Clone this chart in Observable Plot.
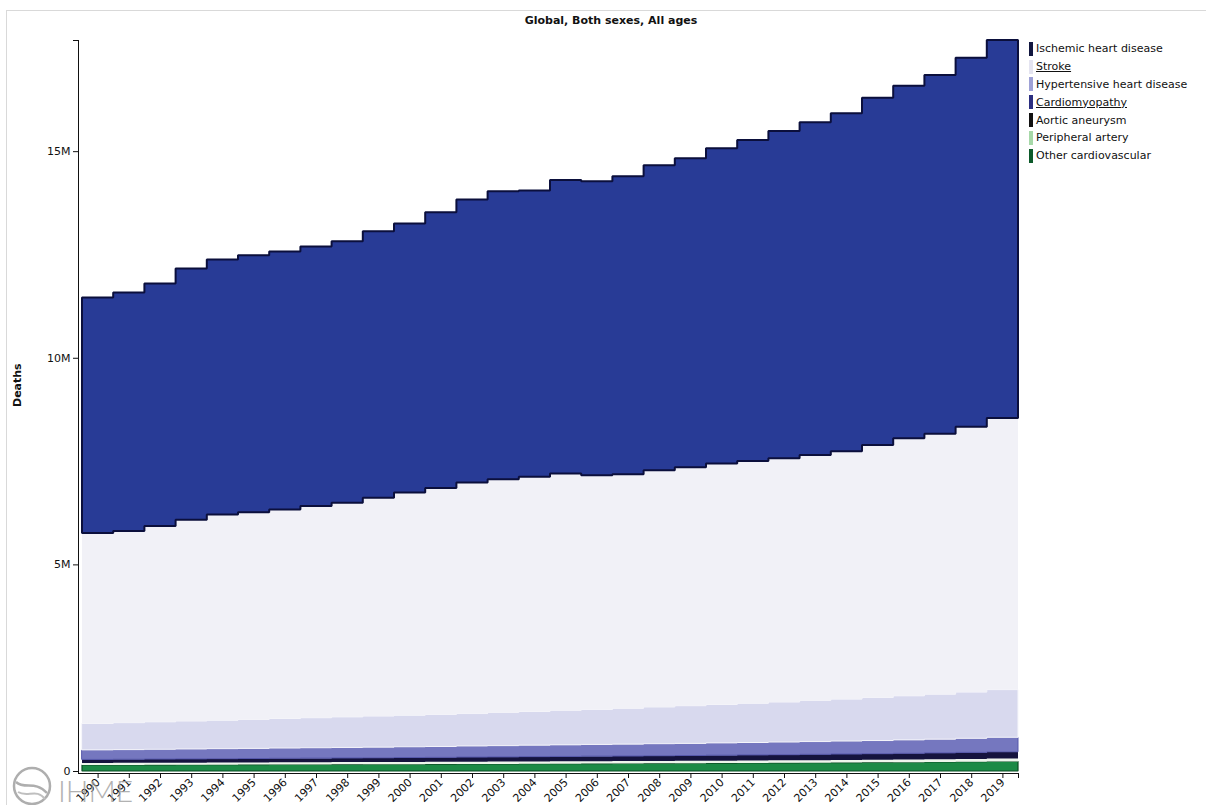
<!DOCTYPE html>
<html>
<head>
<meta charset="utf-8">
<script src="https://cdn.jsdelivr.net/npm/d3@7"></script>
<script src="https://cdn.jsdelivr.net/npm/@observablehq/plot@0.6"></script>
<style>
  html, body { margin: 0; padding: 0; background: #fff; }
  body { width: 1206px; height: 805px; position: relative; overflow: hidden; font-family: "DejaVu Sans", sans-serif; }
  #border { position: absolute; left: 6px; top: 10px; width: 1200px; height: 795px; border-top: 1px solid #d9d9d9; border-left: 1px solid #d9d9d9; }
  #title { position: absolute; left: 0; top: 14px; width: 1222px; text-align: center; font-weight: bold; font-size: 11px; color: #111; }
  #chart { position: absolute; left: 0; top: 0; }
  #legend { position: absolute; left: 1029px; top: 40px; font-size: 11px; color: #111; }
  .row { height: 17.8px; display: flex; align-items: center; white-space: nowrap; }
  .sw { width: 4px; height: 14px; margin-right: 3px; }
  .u { text-decoration: underline; }
  #logo { position: absolute; left: 0; top: 762px; opacity: 0.8; }
</style>
</head>
<body>
<div id="border"></div>
<div id="title">Global, Both sexes, All ages</div>
<div id="chart"></div>
<div id="legend"></div>
<svg id="logo" width="150" height="43">
  <circle cx="32" cy="24" r="18" fill="none" stroke="#9a9a9a" stroke-width="2.5"/>
  <path d="M16 20 C 25 28, 35 18, 47 31" fill="none" stroke="#9a9a9a" stroke-width="2.5"/>
  <path d="M18 30 C 27 36, 37 26, 45 37" fill="none" stroke="#b0b0b0" stroke-width="2"/>
  <text x="58" y="40" font-family="Lato, sans-serif" font-weight="300" font-size="30" fill="#a0a0a0">IHME</text>
</svg>
<script>
// Years (categories)
const years = [1990,1991,1992,1993,1994,1995,1996,1997,1998,1999,
               2000,2001,2002,2003,2004,2005,2006,2007,2008,2009,
               2010,2011,2012,2013,2014,2015,2016,2017,2018,2019];

// Deaths, in millions, per cause
const otherCardio = [0.145,0.147,0.149,0.151,0.153,0.155,0.157,0.159,0.161,0.163,
                     0.165,0.167,0.170,0.172,0.175,0.177,0.180,0.182,0.185,0.188,
                     0.191,0.194,0.197,0.201,0.205,0.209,0.213,0.218,0.224,0.232];
const peripheral  = [0.050,0.050,0.051,0.051,0.052,0.052,0.053,0.053,0.054,0.054,
                     0.055,0.055,0.056,0.056,0.057,0.057,0.058,0.058,0.059,0.059,
                     0.060,0.061,0.061,0.062,0.063,0.064,0.065,0.066,0.067,0.068];
const aortic      = [0.085,0.087,0.089,0.091,0.093,0.095,0.097,0.099,0.101,0.103,
                     0.106,0.108,0.111,0.113,0.116,0.118,0.121,0.123,0.126,0.128,
                     0.131,0.134,0.137,0.140,0.143,0.146,0.150,0.154,0.159,0.165];
const cardiomyo   = [0.230,0.233,0.236,0.239,0.242,0.245,0.248,0.251,0.254,0.257,
                     0.260,0.264,0.268,0.272,0.276,0.280,0.284,0.287,0.290,0.293,
                     0.297,0.301,0.305,0.309,0.313,0.318,0.324,0.331,0.340,0.350];
const hypertensive= [0.640,0.653,0.665,0.678,0.690,0.703,0.715,0.728,0.740,0.753,
                     0.764,0.776,0.785,0.807,0.816,0.838,0.847,0.870,0.890,0.912,
                     0.931,0.950,0.970,0.998,1.016,1.043,1.068,1.091,1.120,1.155];
const stroke      = [4.61,4.64,4.74,4.87,4.98,5.01,5.06,5.12,5.18,5.28,
                     5.39,5.48,5.59,5.64,5.68,5.73,5.67,5.66,5.73,5.77,
                     5.83,5.86,5.90,5.94,6.00,6.11,6.23,6.30,6.42,6.57];
const ischemic    = [5.70,5.77,5.87,6.08,6.17,6.22,6.24,6.28,6.33,6.45,
                     6.51,6.67,6.85,6.97,6.93,7.10,7.11,7.21,7.38,7.48,
                     7.63,7.77,7.92,8.05,8.18,8.40,8.53,8.68,8.93,9.15];

const yTicks = [0, 5, 10, 15];

// Series (bottom to top of the stack), with styles
const series = [
  {name: "Other cardiovascular", values: otherCardio, fill: "#1c8a46", stroke: "#0b4d24", sw: 1.2, legend: "#0c5a2a"},
  {name: "Peripheral artery",    values: peripheral,  fill: "#eef6ec", stroke: "none",    sw: 0,   legend: "#a6d8a8"},
  {name: "Aortic aneurysm",      values: aortic,      fill: "#15133e", stroke: "none",    sw: 0,   legend: "#111111"},
  {name: "Cardiomyopathy",       values: cardiomyo,   fill: "#7577bf", stroke: "#5658ab", sw: 1,   legend: "#2b2e80", underline: true},
  {name: "Hypertensive heart disease", values: hypertensive, fill: "#d8d9ee", stroke: "#f6f6fb", sw: 1, legend: "#9ea1d6"},
  {name: "Stroke",               values: stroke,      fill: "#f1f1f7", stroke: "none",    sw: 0,   legend: "#e4e4f1", underline: true},
  {name: "Ischemic heart disease", values: ischemic,  fill: "#283b96", stroke: "#0b0f3c", sw: 2,   legend: "#11163f"}
];

// Long table for the stacked step area (2020 closes the last step)
const rows = series.flatMap(s => [...years, 2020].map((yr, i) => ({
  year: yr,
  cause: s.name,
  deaths: s.values[Math.min(i, years.length - 1)],
  fillC: s.fill,
  strokeC: s.stroke
})));

const totals = years.map((_, i) => d3.sum(series, s => s.values[i]));
const yMax = d3.max(totals);

const chart = Plot.plot({
  width: 1025,
  height: 805,
  marginLeft: 78,
  marginRight: 7,
  marginTop: 40,
  marginBottom: 32,
  style: {fontFamily: "DejaVu Sans, sans-serif", fontSize: "11px", color: "#111", background: "transparent"},
  x: {type: "linear", domain: [1990, 2020], insetLeft: 4, label: null},
  y: {domain: [0, yMax], insetBottom: 2, label: null},
  color: {type: "identity"},
  marks: [
    Plot.areaY(rows, {
      x: "year", y: "deaths", z: "cause",
      fill: "fillC", stroke: "strokeC",
      strokeWidth: d => series.find(s => s.name === d.cause).sw,
      curve: "step-after", strokeLinejoin: "miter"
    }),
    Plot.frame({anchor: "left", stroke: "#111"}),
    Plot.frame({anchor: "bottom", stroke: "#111"}),
    Plot.axisY({
      ticks: [...yTicks, yMax],
      tickFormat: d => d === yMax ? "" : (d === 0 ? "0" : d + "M"),
      tickSize: 5, tickPadding: 3, label: null
    }),
    Plot.axisX({
      ticks: [...years.map(y => y + 0.5), 2020],
      tickFormat: d => d === 2020 ? "" : String(d - 0.5),
      tickSize: 5, tickRotate: -45, tickPadding: 2, label: null
    }),
    Plot.text(["Deaths"], {frameAnchor: "left", dx: -61, rotate: -90, fontWeight: "bold", fontSize: 11})
  ]
});
document.getElementById("chart").appendChild(chart);

// Legend (top to bottom: Ischemic first)
const legend = document.getElementById("legend");
[...series].reverse().forEach(s => {
  const row = document.createElement("div");
  row.className = "row";
  const sw = document.createElement("div");
  sw.className = "sw";
  sw.style.background = s.legend;
  const t = document.createElement("span");
  t.textContent = s.name;
  if (s.underline) t.className = "u";
  row.appendChild(sw);
  row.appendChild(t);
  legend.appendChild(row);
});
</script>
</body>
</html>
